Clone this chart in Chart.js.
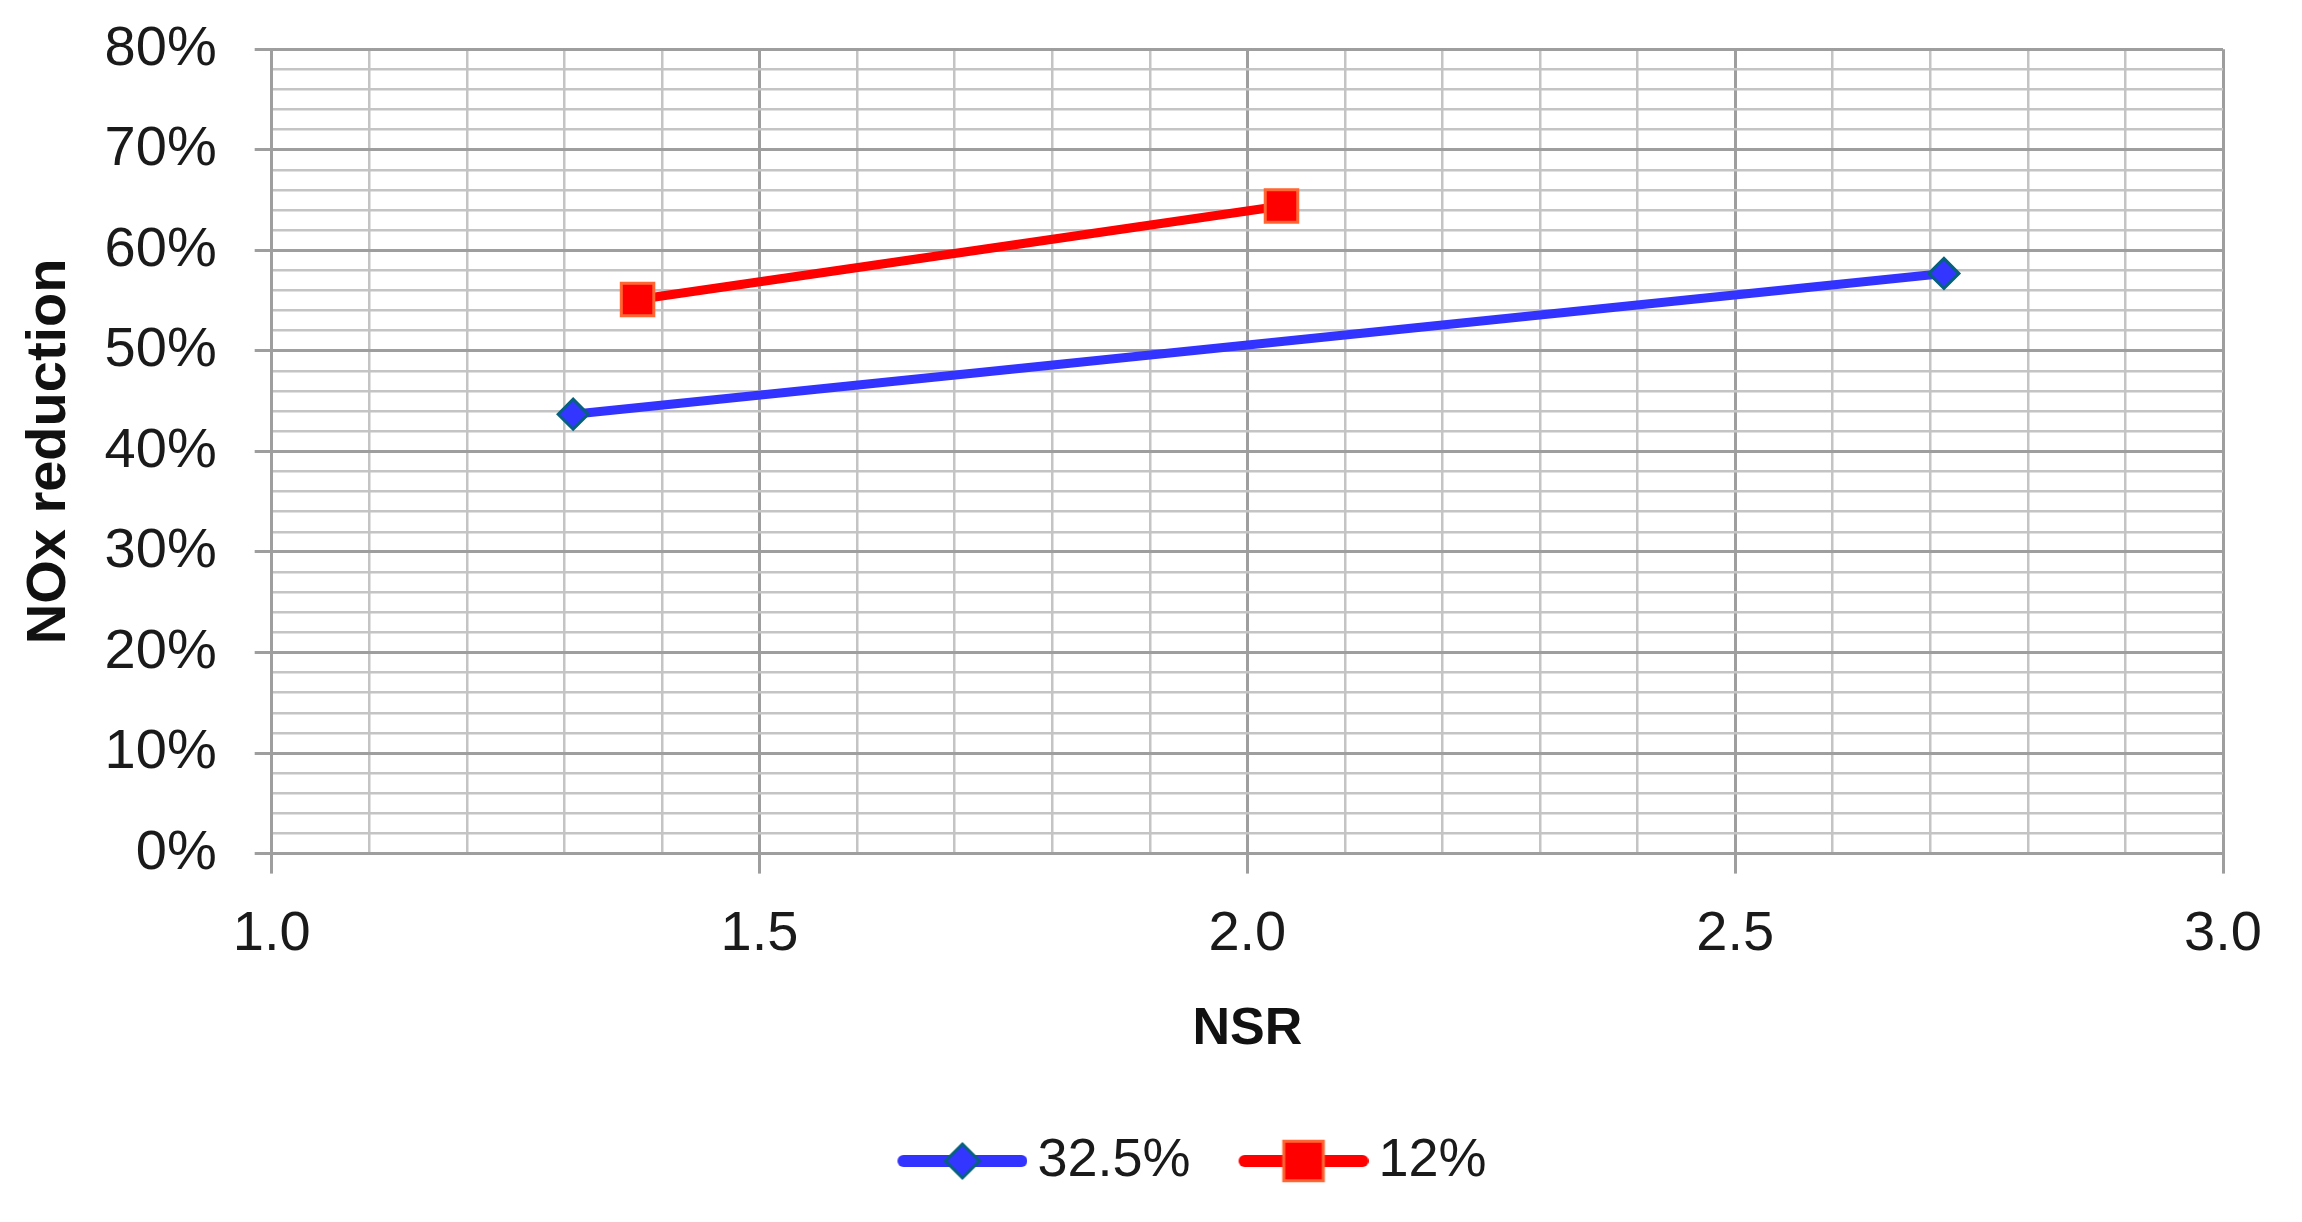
<!DOCTYPE html>
<html lang="en">

<head>
    <meta charset="UTF-8">
    <title>NOx reduction vs NSR</title>
    <style>
        html, body { margin: 0; padding: 0; background: #fff; }
        #wrap { width: 2302px; height: 1222px; }
    </style>
</head>

<body>
    <div id="wrap">
        <canvas id="myChart"></canvas>
    </div>
    <script src="https://cdn.jsdelivr.net/npm/chart.js"></script>
    <script>
        // data
        const seriesNames = ['32.5%', '12%'];
        const nsr325 = [1.309, 2.714];
        const nox325 = [43.7, 57.7];
        const nsr12 = [1.375, 2.035];
        const nox12 = [55.1, 64.4];
        // labelled ticks
        const xTickLabels = [1.0, 1.5, 2.0, 2.5, 3.0];
        const yTickLabels = [0, 10, 20, 30, 40, 50, 60, 70, 80];

        const FONT = "'Liberation Sans', Arial, sans-serif";
        const MAJOR = '#9e9e9e';
        const MINOR = '#c4c4c4';

        function toPoints(xs, ys) {
            return xs.map(function (x, i) { return { x: x, y: ys[i] }; });
        }

        function isMajorX(v) {
            return xTickLabels.some(function (t) { return Math.abs(t - v) < 1e-6; });
        }
        function isMajorY(v) {
            return yTickLabels.some(function (t) { return Math.abs(t - v) < 1e-6; });
        }

        const styles = [
            { line: '#3333ff', point: 'rectRot', radius: 15, legendRadius: 17, fill: '#3236ff', border: '#06617e' },
            { line: '#ff0000', point: 'rect', radius: 23, legendRadius: 28, fill: '#ff0000', border: '#ff6633' }
        ];

        // legend icon: short thick line with the marker in the middle (blank space on the left)
        function legendIcon(st) {
            const c = document.createElement('canvas');
            c.width = 185;
            c.height = 50;
            const g = c.getContext('2d');
            g.strokeStyle = st.line;
            g.lineWidth = 12;
            g.lineCap = 'round';
            g.beginPath();
            g.moveTo(61, 25);
            g.lineTo(179, 25);
            g.stroke();
            g.fillStyle = st.fill;
            g.strokeStyle = st.border;
            g.lineWidth = 3;
            Chart.helpers.drawPoint(g, { pointStyle: st.point, radius: st.legendRadius, borderWidth: 3, rotation: 0 }, 120, 25);
            return c;
        }

        // nudge the legend to the right like in the original
        const legendShift = {
            id: 'legendShift',
            afterLayout: function (chart) {
                if (chart.legend) {
                    chart.legend.left += 45;
                    chart.legend.right += 45;
                }
            }
        };

        const ctx = document.getElementById('myChart');
        const mychart = new Chart(ctx, {
            type: 'scatter',
            data: {
                datasets: [{
                    label: seriesNames[0],
                    data: toPoints(nsr325, nox325),
                    showLine: true,
                    borderColor: styles[0].line,
                    borderWidth: 9,
                    pointStyle: styles[0].point,
                    pointRadius: styles[0].radius,
                    pointBackgroundColor: styles[0].fill,
                    pointBorderColor: styles[0].border,
                    pointBorderWidth: 3
                }, {
                    label: seriesNames[1],
                    data: toPoints(nsr12, nox12),
                    showLine: true,
                    borderColor: styles[1].line,
                    borderWidth: 9,
                    pointStyle: styles[1].point,
                    pointRadius: styles[1].radius,
                    pointBackgroundColor: styles[1].fill,
                    pointBorderColor: styles[1].border,
                    pointBorderWidth: 3
                }]
            },
            plugins: [legendShift],
            options: {
                responsive: true,
                maintainAspectRatio: false,
                devicePixelRatio: 1,
                animation: false,
                layout: {
                    padding: { left: 33, right: 79, top: 5, bottom: 24 }
                },
                scales: {
                    x: {
                        type: 'linear',
                        min: 1,
                        max: 3,
                        ticks: {
                            stepSize: 0.1,
                            autoSkip: false,
                            maxRotation: 0,
                            padding: 27,
                            color: '#1a1a1a',
                            font: { family: FONT, size: 56 },
                            callback: function (v) {
                                return isMajorX(v) ? Number(v).toFixed(1) : '';
                            }
                        },
                        grid: {
                            color: function (c) { return isMajorX(c.tick.value) ? MAJOR : MINOR; },
                            lineWidth: function (c) { return isMajorX(c.tick.value) ? 3 : 2.5; },
                            tickColor: function (c) { return isMajorX(c.tick.value) ? MAJOR : 'rgba(0,0,0,0)'; },
                            tickLength: 20
                        },
                        border: { color: MAJOR, width: 3 },
                        title: {
                            display: true,
                            text: 'NSR',
                            color: '#111',
                            font: { family: FONT, size: 52, weight: 'bold', lineHeight: 0.6 },
                            padding: { top: 19, bottom: 79 }
                        }
                    },
                    y: {
                        min: 0,
                        max: 80,
                        ticks: {
                            stepSize: 2,
                            autoSkip: false,
                            padding: 38,
                            color: '#1a1a1a',
                            font: { family: FONT, size: 56, lineHeight: 0.4 },
                            callback: function (v) {
                                return isMajorY(v) ? v + '%' : '';
                            }
                        },
                        grid: {
                            color: function (c) { return isMajorY(c.tick.value) ? MAJOR : MINOR; },
                            lineWidth: function (c) { return isMajorY(c.tick.value) ? 3 : 2.5; },
                            tickColor: function (c) { return isMajorY(c.tick.value) ? MAJOR : 'rgba(0,0,0,0)'; },
                            tickLength: 17
                        },
                        border: { color: MAJOR, width: 3 },
                        title: {
                            display: true,
                            text: 'NOx reduction',
                            color: '#111',
                            font: { family: FONT, size: 56, weight: 'bold', lineHeight: 0.6 },
                            padding: { top: 0, bottom: 0 }
                        }
                    }
                },
                plugins: {
                    tooltip: { enabled: false },
                    legend: {
                        position: 'bottom',
                        labels: {
                            usePointStyle: true,
                            pointStyleWidth: 151,
                            padding: 10,
                            color: '#1a1a1a',
                            font: { family: FONT, size: 54 },
                            generateLabels: function (chart) {
                                return chart.data.datasets.map(function (ds, i) {
                                    return {
                                        text: ds.label,
                                        pointStyle: legendIcon(styles[i]),
                                        fillStyle: styles[i].fill,
                                        strokeStyle: styles[i].border,
                                        lineWidth: 0,
                                        hidden: false,
                                        datasetIndex: i,
                                        fontColor: '#1a1a1a'
                                    };
                                });
                            }
                        }
                    }
                }
            }
        });
    </script>
</body>

</html>
